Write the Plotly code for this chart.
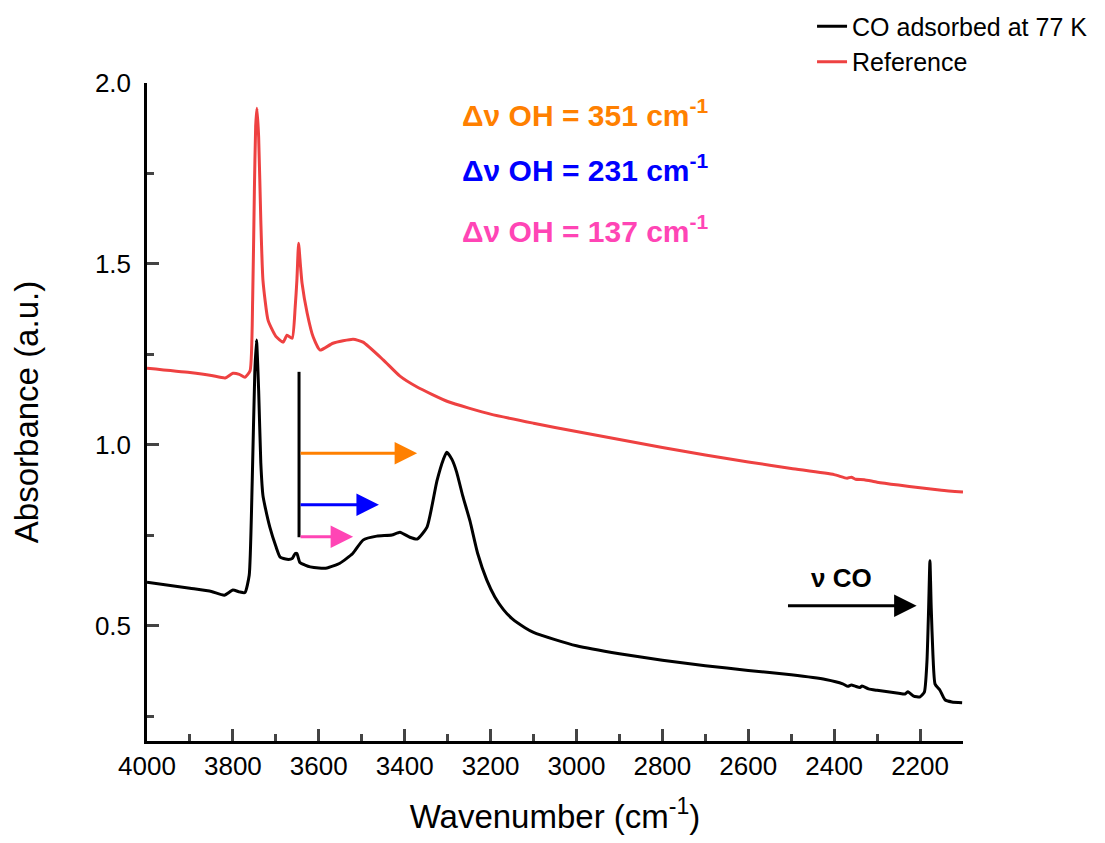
import plotly.graph_objects as go

# ---- data ----
co_x = [4000, 3900, 3850, 3820, 3800, 3785, 3772, 3762, 3755, 3749, 3745, 3740, 3735, 3730,
        3725, 3714, 3700, 3690, 3674, 3662, 3655, 3651, 3644, 3632, 3620, 3600, 3581, 3551,
        3521, 3497, 3465, 3430, 3411, 3388, 3371, 3348, 3325, 3310, 3302, 3290, 3279, 3265,
        3248, 3230, 3209, 3190, 3170, 3150, 3120, 3100, 3050, 3000, 2900, 2800, 2700,
        2600, 2500, 2420, 2380, 2368, 2360, 2350, 2340, 2335, 2320, 2300, 2250, 2235, 2228, 2215,
        2200, 2190, 2184, 2180, 2177, 2174, 2170, 2165, 2154, 2142, 2126, 2102]
co_y = [0.621, 0.604, 0.595, 0.585, 0.599, 0.594, 0.592, 0.64, 0.9, 1.2, 1.29, 1.15, 0.95, 0.86,
        0.829, 0.773, 0.72, 0.69, 0.684, 0.686, 0.70, 0.70, 0.675, 0.668, 0.663, 0.660, 0.660, 0.673,
        0.70, 0.737, 0.748, 0.751, 0.759, 0.745, 0.74, 0.773, 0.90, 0.96, 0.98, 0.96, 0.925, 0.86,
        0.79, 0.70, 0.627, 0.58, 0.545, 0.52, 0.495, 0.482, 0.462, 0.445, 0.423, 0.405, 0.390,
        0.377, 0.365, 0.352, 0.340, 0.333, 0.337, 0.333, 0.330, 0.334, 0.326, 0.322, 0.314, 0.312, 0.318, 0.306,
        0.304, 0.317, 0.40, 0.55, 0.68, 0.55, 0.42, 0.339, 0.323, 0.296, 0.290, 0.288]

ref_x = [4000, 3900, 3850, 3818, 3800, 3785, 3772, 3760, 3754, 3750, 3747, 3744, 3740, 3735,
         3730, 3718, 3700, 3683, 3674, 3662, 3655, 3651, 3647, 3643, 3639, 3627, 3613, 3597,
         3567, 3520, 3497, 3450, 3411, 3371, 3300, 3200, 3100, 3000, 2900, 2800, 2700,
         2600, 2500, 2400, 2370, 2360, 2350, 2330, 2300, 2250, 2200, 2150, 2100]
ref_y = [1.212, 1.200, 1.192, 1.185, 1.198, 1.195, 1.187, 1.205, 1.40, 1.70, 1.88, 1.93, 1.85, 1.62,
         1.455, 1.344, 1.30, 1.284, 1.303, 1.295, 1.38, 1.455, 1.557, 1.50, 1.447, 1.364, 1.298, 1.262,
         1.281, 1.292, 1.284, 1.235, 1.19, 1.16, 1.12, 1.085, 1.06, 1.037, 1.015, 0.993, 0.972,
         0.953, 0.935, 0.918, 0.908, 0.911, 0.905, 0.904, 0.897, 0.889, 0.882, 0.875, 0.870]

series_names = ["CO adsorbed at 77 K", "Reference"]
series_colors = ["#000000", "#EE4141"]

shift_labels = ["351", "231", "137"]
shift_colors = ["#FF8000", "#0000FF", "#FF45B5"]
shift_text_y = [1.916, 1.764, 1.598]
shift_arrow_y = [0.977, 0.835, 0.746]
shift_arrow_tip_x = [3371, 3460, 3520]
arrow_start_x = 3646
vline_y = [0.745, 1.202]

x_ticks = [4000, 3800, 3600, 3400, 3200, 3000, 2800, 2600, 2400, 2200]
y_ticks = [0.5, 1.0, 1.5, 2.0]

FONT = "Arial, 'Liberation Sans', sans-serif"

fig = go.Figure()
fig.add_trace(go.Scatter(x=co_x, y=co_y, mode="lines", name=series_names[0],
                         line=dict(color=series_colors[0], width=3, shape="spline", smoothing=0.5)))
fig.add_trace(go.Scatter(x=ref_x, y=ref_y, mode="lines", name=series_names[1],
                         line=dict(color=series_colors[1], width=3, shape="spline", smoothing=0.5)))

# vertical marker line
fig.add_shape(type="line", xref="x", yref="y", x0=arrow_start_x, x1=arrow_start_x,
              y0=vline_y[0], y1=vline_y[1], line=dict(color="black", width=3))

# shift arrows and labels
for lab, col, ty, ay, tipx in zip(shift_labels, shift_colors, shift_text_y, shift_arrow_y, shift_arrow_tip_x):
    fig.add_annotation(x=tipx, y=ay, ax=arrow_start_x, ay=ay, xref="x", yref="y",
                       axref="x", ayref="y", text="", showarrow=True,
                       arrowhead=2, arrowsize=1.5, arrowwidth=3, arrowcolor=col)
    fig.add_annotation(x=2978, y=ty, xref="x", yref="y", showarrow=False,
                       text="<b>Δν OH = " + lab + " cm<sup>-1</sup></b>",
                       font=dict(family=FONT, size=30, color=col), xanchor="center", yanchor="middle")

# nu CO arrow
fig.add_annotation(x=2208, y=0.556, ax=2511, ay=0.556, xref="x", yref="y", axref="x", ayref="y",
                   text="", showarrow=True, arrowhead=2, arrowsize=1.5, arrowwidth=3, arrowcolor="black")
fig.add_annotation(x=2384, y=0.632, xref="x", yref="y", showarrow=False,
                   text="<b>ν CO</b>", font=dict(family=FONT, size=26, color="black"))

fig.update_layout(
    width=1097, height=835,
    margin=dict(l=139, r=142, t=75, b=102, autoexpand=False),
    plot_bgcolor="white", paper_bgcolor="white",
    font=dict(family=FONT, size=26, color="black"),
    legend=dict(x=0.815, y=1.121, xanchor="left", yanchor="top", bgcolor="rgba(0,0,0,0)",
                font=dict(size=25, family=FONT), tracegroupgap=0),
    showlegend=True,
)
fig.update_xaxes(range=[4000, 2100], tickvals=x_ticks, ticks="inside", ticklen=12, tickwidth=2.5,
                 showline=True, linecolor="black", linewidth=2.5, showgrid=False, zeroline=False,
                 tickfont=dict(size=26), automargin=False,
                 minor=dict(dtick=100, ticks="inside", ticklen=7, tickwidth=2.5, showgrid=False),
                 title=dict(text="Wavenumber (cm<sup>-1</sup>)", font=dict(size=33), standoff=25))
fig.update_yaxes(range=[0.182, 2.0], tickvals=y_ticks, tickformat=".1f", ticks="inside", ticklen=12,
                 tickwidth=2.5, showline=True, linecolor="black", linewidth=2.5, showgrid=False,
                 zeroline=False, tickfont=dict(size=26), automargin=False, ticklabelstandoff=8,
                 minor=dict(dtick=0.25, tick0=0, ticks="inside", ticklen=7, tickwidth=2.5, showgrid=False),
                 title=dict(text="Absorbance (a.u.)", font=dict(size=33), standoff=61))

fig.write_html("out.html")
